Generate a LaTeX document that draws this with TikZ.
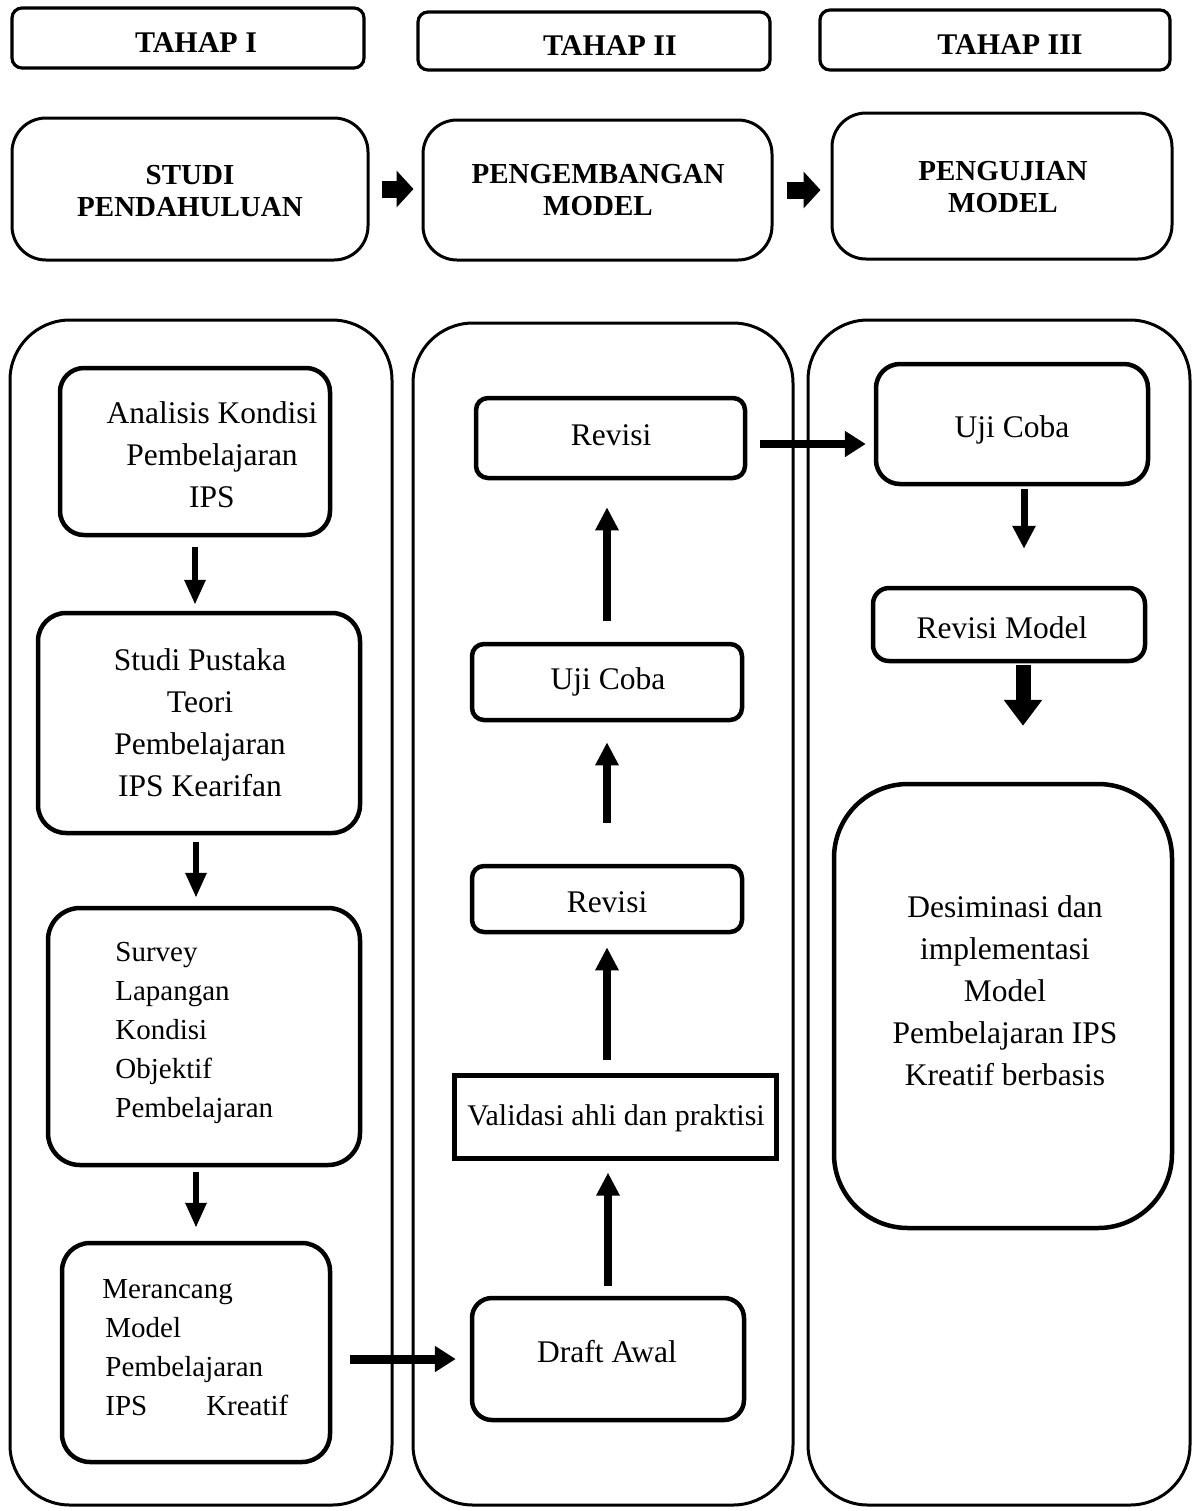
\documentclass[tikz,border=0pt]{standalone}
\usepackage{fontspec}
\setmainfont{Liberation Serif}
\usetikzlibrary{arrows.meta}
\begin{document}
\begin{tikzpicture}[x=0.5pt,y=-0.5pt,
  col/.style={draw, line width=1.5pt, rounded corners=30pt, inner sep=0pt},
  head/.style={draw, line width=1.6pt, rounded corners=5pt, inner sep=0pt},
  stage/.style={draw, line width=1.5pt, rounded corners=17pt, inner sep=0pt},
  box/.style={draw, line width=2.25pt, rounded corners=#1, inner sep=0pt},
  box/.default=12pt,
  sharpbox/.style={draw, line width=2.5pt, inner sep=0pt},
  txt/.style={inner sep=0pt, font=\fontsize{15.75pt}{21pt}\selectfont, align=center},
  stxt/.style={inner sep=0pt, font=\fontsize{14.5pt}{19.5pt}\selectfont, align=left, anchor=west},
  btxt/.style={inner sep=0pt, font=\fontsize{14.5pt}{16pt}\selectfont\bfseries, align=center},
  arrA/.style={line width=3pt, -{Triangle[length=12.5pt,width=10pt]}},
  arrB/.style={line width=4pt, -{Triangle[length=11.5pt,width=11pt]}},
  arrH/.style={line width=4.5pt, -{Triangle[length=10.5pt,width=12.5pt]}},
  arrBig/.style={line width=7.5pt, -{Triangle[length=13pt,width=18.5pt]}},
  arrTop/.style={line width=8.5pt, -{Triangle[length=8.5pt,width=18pt]}}
]
\useasboundingbox (0,0) rectangle (1194,1511);

% stage headings
\node[head, minimum width=176pt, minimum height=30pt] (t1) at (188,38) {};
\node[head, minimum width=176pt, minimum height=29pt] (t2) at (594,41) {};
\node[head, minimum width=175pt, minimum height=30pt] (t3) at (995,40) {};
\node[btxt, font=\fontsize{15pt}{16pt}\selectfont\bfseries] (t1t) at (196,43) {TAHAP I};
\node[btxt, font=\fontsize{15pt}{16pt}\selectfont\bfseries] (t2t) at (610,46) {TAHAP II};
\node[btxt, font=\fontsize{15pt}{16pt}\selectfont\bfseries] (t3t) at (1010,45) {TAHAP III};

% stage boxes
\node[stage, minimum width=178pt, minimum height=71pt] (s1) at (190,189) {};
\node[stage, minimum width=174.5pt, minimum height=70pt] (s2) at (597.5,190) {};
\node[stage, minimum width=170pt, minimum height=73pt] (s3) at (1002,186) {};
\node[btxt] (s1t) at (190,191) {STUDI\\PENDAHULUAN};
\node[btxt] (s2t) at (598,190) {PENGEMBANGAN\\MODEL};
\node[btxt] (s3t) at (1003,187) {PENGUJIAN\\MODEL};
\draw[arrTop, shorten <=6pt, shorten >=4pt] (s1.east) -- (s1.east -| s2.west);
\draw[arrTop, shorten <=6.5pt, shorten >=5pt] (s2.east) -- (s2.east -| s3.west);

% columns
\node[col, minimum width=191pt, minimum height=592.5pt] (c1) at (201,912.5) {};
\node[col, minimum width=190pt, minimum height=591pt] (c2) at (603,914) {};
\node[col, minimum width=191pt, minimum height=592.5pt] (c3) at (999,912.5) {};

% column 1
\node[box=12pt, minimum width=135pt, minimum height=83.5pt] (a1) at (195,451.5) {};
\node[txt] (a1t) at (212,455) {Analisis Kondisi\\Pembelajaran\\IPS};
\node[box=14pt, minimum width=161pt, minimum height=110pt] (a2) at (199,723) {};
\node[txt] (a2t) at (200,723) {Studi Pustaka\\Teori\\Pembelajaran\\IPS Kearifan};
\node[box=16pt, minimum width=156pt, minimum height=128.5pt] (a3) at (204,1036.5) {};
\node[stxt] (a3t) at (115,1032.5) {Survey\\Lapangan\\Kondisi\\Objektif\\Pembelajaran};
\node[box=14pt, minimum width=134pt, minimum height=109.5pt] (a4) at (196,1352.5) {};
\node[stxt] (a4t) at (102,1347.5) {Merancang\\\hspace*{1.5pt}Model\\\hspace*{1.5pt}Pembelajaran\\\hspace*{1.5pt}\makebox[91.5pt][l]{IPS\hfill Kreatif}};

\draw[arrA, shorten <=5pt, shorten >=3pt] (a1.south) -- (a1.south |- a2.north);
\draw[arrA, shorten <=3.5pt, shorten >=4pt] ([xshift=-1.5pt]a2.south) -- ([xshift=-1.5pt]a2.south |- a3.north);
\draw[arrA, shorten <=2.5pt, shorten >=6.5pt] (a3.south -| a4.north) -- (a4.north);

% column 2
\node[box=6pt, minimum width=134.5pt, minimum height=40pt] (b1) at (610.5,438) {};
\node[txt] (b1t) at (611,435) {Revisi};
\node[box=6pt, minimum width=135pt, minimum height=38pt] (b2) at (607,682) {};
\node[txt] (b2t) at (608,682) {Uji Coba};
\node[box=6pt, minimum width=135pt, minimum height=33pt] (b3) at (607,899) {};
\node[txt] (b3t) at (607,902) {Revisi};
\node[sharpbox, minimum width=161pt, minimum height=41.5pt] (b4) at (615,1116.5) {};
\node[txt, font=\fontsize{15pt}{20pt}\selectfont] (b4t) at (616,1118) {Validasi ahli dan praktisi};
\node[box=10pt, minimum width=136pt, minimum height=61pt] (b5) at (608,1359) {};
\node[txt] (b5t) at (607,1352) {Draft Awal};

\draw[arrH, shorten <=9pt, shorten >=7pt] (b5.west -| a4.east) -- (b5.west);
\draw[arrB, shorten <=5pt, shorten >=6pt] (b5.north) -- (b5.north |- b4.south);
\draw[arrB, shorten <=6.5pt, shorten >=6.5pt] (b3.south |- b4.north) -- (b3.south);
\draw[arrB, shorten <=20.5pt, shorten >=10pt] (b3.north) -- (b3.north |- b2.south);
\draw[arrB, shorten <=10.5pt, shorten >=13.5pt] (b2.north) -- (b2.north |- b1.south);

% column 3
\node[box=12pt, minimum width=136pt, minimum height=60pt] (d1) at (1012,424) {};
\node[txt] (d1t) at (1012,430) {Uji Coba};
\node[box=8pt, minimum width=136pt, minimum height=36.5pt] (d2) at (1009,624.5) {};
\node[txt] (d2t) at (1002,628) {Revisi Model};
\node[box=37pt, minimum width=169pt, minimum height=222pt] (d3) at (1003,1006) {};
\node[txt] (d3t) at (1005,990.5) {Desiminasi dan\\implementasi\\Model\\Pembelajaran IPS\\Kreatif berbasis};

\draw[arrH, line width=4pt, shorten <=6.5pt, shorten >=4pt] ([yshift=-3pt]b1.east) -- ([yshift=-3pt]b1.east -| d1.west);
\draw[arrB, line width=3.5pt, shorten <=1.5pt, shorten >=18.5pt] ([xshift=6pt]d1.south) -- ([xshift=6pt]d1.south |- d2.north);
\draw[arrBig, shorten <=1pt, shorten >=28pt] ([xshift=7pt]d2.south) -- ([xshift=7pt]d2.south |- d3.north);
\end{tikzpicture}
\end{document}
